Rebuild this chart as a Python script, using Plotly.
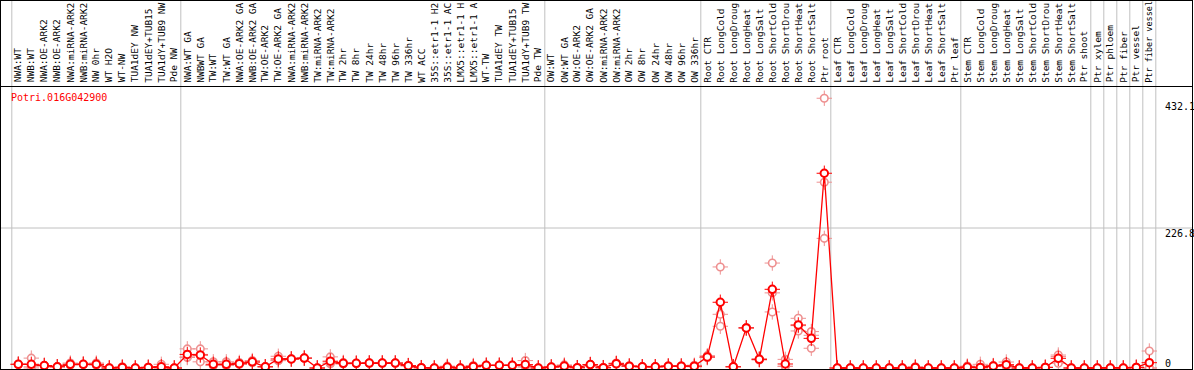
import plotly.graph_objects as go

gene = "Potri.016G042900"

categories = [
    "NWA:WT", "NWB:WT", "NWA:OE-ARK2", "NWB:OE-ARK2", "NWA:miRNA-ARK2", "NWB:miRNA-ARK2",
    "NW 0hr", "WT H2O", "WT-NW", "TUA1dEY NW", "TUA1dEY+TUB15", "TUA1dY+TUB9 NW", "Pde NW",
    "NWA:WT GA", "NWBWT GA", "TW:WT", "TW:WT GA", "NWA:OE-ARK2 GA", "NWB:OE-ARK2 GA",
    "TW:OE-ARK2", "TW:OE-ARK2 GA", "NWA:miRNA-ARK2", "NWB:miRNA-ARK2", "TW:miRNA-ARK2",
    "TW:miRNA-ARK2", "TW 2hr", "TW 8hr", "TW 24hr", "TW 48hr", "TW 96hr", "TW 336hr",
    "WT ACC", "35S::etr1-1 H2", "35S::etr1-1 AC", "LMX5::etr1-1 H", "LMX5::etr1-1 A",
    "WT-TW", "TUA1dEY TW", "TUA1dEY+TUB15", "TUA1dY+TUB9 TW", "Pde TW",
    "OW:WT", "OW:WT GA", "OW:OE-ARK2", "OW:OE-ARK2 GA", "OW:miRNA-ARK2", "OW:miRNA-ARK2",
    "OW 2hr", "OW 8hr", "OW 24hr", "OW 48hr", "OW 96hr", "OW 336hr",
    "Root CTR", "Root LongCold", "Root LongDroug", "Root LongHeat", "Root LongSalt",
    "Root ShortCold", "Root ShortDrou", "Root ShortHeat", "Root ShortSalt", "Ptr root",
    "Leaf CTR", "Leaf LongCold", "Leaf LongDroug", "Leaf LongHeat", "Leaf LongSalt",
    "Leaf ShortCold", "Leaf ShortDrou", "Leaf ShortHeat", "Leaf ShortSalt", "Ptr leaf",
    "Stem CTR", "Stem LongCold", "Stem LongDroug", "Stem LongHeat", "Stem LongSalt",
    "Stem ShortCold", "Stem ShortDrou", "Stem ShortHeat", "Stem ShortSalt", "Ptr shoot",
    "Ptr xylem", "Ptr phloem", "Ptr fiber", "Ptr vessel", "Ptr fiber vessel",
]

means = [
    6, 6, 4, 2, 6, 6, 6, 0, 1, 0, 1, 2, 0,
    22, 21, 6, 6, 7, 10, 2, 14.6, 14.6, 16, 0, 11, 7.6, 7.6, 8, 8, 8, 3.8, 0.5, 0, 1.6, 0,
    2.5, 4.3, 4.3, 4.3, 5.5, 0,
    1.6, 3.2, 0.5, 5.5, 0.5, 7, 3, 2, 2, 3, 3, 3,
    18, 106.5, 2, 65, 14, 127.5, 6.5, 69.7, 48, 315.5,
    0, 0, 0, 0, 0, 0, 1, 0, 0, 0,
    1.6, 1, 3.2, 5.4, 0, 0, 1, 15.7, 0, 0,
    0, 0, 0, 1, 8.6,
]

rep1 = [
    6, 16, 4, 2, 8, 6, 8, 0, 2, 0, 1, 6, 0,
    31, 31, 10, 10, 9, 12, 2, 19, 14.6, 16, 0, 18, 9, 7.6, 8, 8, 8, 3.8, 0.5, 0, 3, 0,
    4, 4.3, 4.3, 4.3, 12, 0,
    1.6, 5, 0.5, 5.5, 0.5, 8, 3, 2, 2, 3, 3, 4.5,
    20, 163.7, 2, 65, 15, 170, 14, 80.5, 59, 437,
    0, 0, 0, 0, 0, 0, 2, 0, 0, 0,
    3.2, 6, 4, 9.7, 0, 0, 1, 21, 0, 0,
    0, 0, 0, 1, 27.5,
]

rep2 = [
    6, 2, 4, 2, 5, 6, 5, 0, 1, 0, 1, 0, 0,
    18, 22, 4, 4, 6, 9, 2, 12, 14.6, 16, 0, 8, 7, 7.6, 8, 8, 8, 3.8, 0.5, 0, 1, 0,
    2, 4.3, 4.3, 4.3, 3, 0,
    1.6, 2.5, 0.5, 5.5, 0.5, 6.5, 3, 2, 2, 3, 3, 2.5,
    17, 87, 2, 65, 14, 121.7, 3, 68.6, 53, 301,
    0, 0, 0, 0, 0, 0, 1, 0, 0, 0,
    1, 0, 3, 4, 0, 0, 1, 18.5, 0, 0,
    0, 0, 0, 1, 0,
]

rep3 = [
    6, 0, 4, 2, 5, 6, 5, 0, 0, 0, 1, 0, 0,
    17, 10, 4, 4, 6, 9, 2, 12, 14.6, 16, 0, 7, 6.8, 7.6, 8, 8, 8, 3.8, 0.5, 0, 0.8, 0,
    1.5, 4.3, 4.3, 4.3, 1.5, 0,
    1.6, 2, 0.5, 5.5, 0.5, 6.5, 3, 2, 2, 3, 3, 2,
    17, 67.6, 2, 65, 13, 90.8, 2.5, 60, 32, 210,
    0, 0, 0, 0, 0, 0, 0, 0, 0, 0,
    0.6, 0, 2.6, 2.5, 0, 0, 1, 7.6, 0, 0,
    0, 0, 0, 1, 0,
]

y_tick_vals = [432.1, 226.8, 0]
y_tick_text = ["432.1", "226.8", "0"]
group_ends = [-1, 12, 40, 52, 62, 72, 82, 83, 84, 85, 86, 87]

W, H = 1194, 370
L, R, T, B = 1, 2, 87, 0
plot_h = H - T - B
PX_PER_CAT = 13.0
first_center_px = 18.3
x0 = -(first_center_px - L) / PX_PER_CAT
x1 = x0 + (W - L - R) / PX_PER_CAT
zero_py = 368.0
px_per_unit = (368.0 - 228.0) / 226.8
y_lo = -(H - zero_py) / px_per_unit
y_hi = (zero_py - T) / px_per_unit


def py_to_paper(py):
    return (H - B - py) / plot_h


def px_to_paper(px):
    return (px - L) / (W - L - R)


RED = "#FF0000"
PINK = "#EE9090"
xs = list(range(len(categories)))
fig = go.Figure()

for rep in (rep3, rep2, rep1):
    fig.add_trace(go.Scatter(x=xs, y=rep, mode="markers",
                             marker=dict(symbol="cross-thin-open", size=11, color=PINK,
                                         line=dict(width=1, color=PINK)),
                             hoverinfo="skip", showlegend=False, cliponaxis=False))
    fig.add_trace(go.Scatter(x=xs, y=rep, mode="markers",
                             marker=dict(symbol="circle", size=7.5, color="white",
                                         line=dict(width=1.6, color=PINK)),
                             hoverinfo="skip", showlegend=False, cliponaxis=False))

fig.add_trace(go.Scatter(x=xs, y=means, mode="lines", line=dict(color=RED, width=1.3),
                         hoverinfo="skip", showlegend=False, cliponaxis=False))
fig.add_trace(go.Scatter(x=xs, y=means, mode="markers",
                         marker=dict(symbol="cross-thin-open", size=11, color=RED,
                                     line=dict(width=1, color=RED)),
                         hoverinfo="skip", showlegend=False, cliponaxis=False))
fig.add_trace(go.Scatter(x=xs, y=means, mode="markers",
                         marker=dict(symbol="circle", size=7.5, color="white",
                                     line=dict(width=2, color=RED)),
                         text=categories, showlegend=False, cliponaxis=False))

shapes = []
for g in group_ends:
    shapes.append(dict(type="line", xref="x", yref="paper", x0=g + 0.5, x1=g + 0.5,
                       y0=py_to_paper(H), y1=py_to_paper(0),
                       line=dict(color="#C0C0C0", width=1), layer="below"))
shapes.append(dict(type="line", xref="paper", yref="y", x0=0, x1=1,
                   y0=y_tick_vals[1], y1=y_tick_vals[1],
                   line=dict(color="#C0C0C0", width=1), layer="below"))
for py in (0.5, 86.5, 369.5):
    shapes.append(dict(type="line", xref="paper", yref="paper", x0=px_to_paper(0), x1=px_to_paper(1193),
                       y0=py_to_paper(py), y1=py_to_paper(py), line=dict(color="black", width=1)))
for px in (0.5, 1192.5):
    shapes.append(dict(type="line", xref="paper", yref="paper", x0=px_to_paper(px), x1=px_to_paper(px),
                       y0=py_to_paper(H), y1=py_to_paper(0), line=dict(color="black", width=1)))

annotations = []
for i, c in enumerate(categories):
    fs = min(9.5, 82.0 / (0.602 * len(c)))
    annotations.append(dict(x=i, y=py_to_paper(84.5), xref="x", yref="paper", text=c,
                            textangle=-90, showarrow=False, xanchor="center", yanchor="bottom",
                            font=dict(family="DejaVu Sans Mono", size=fs, color="black")))
annotations.append(dict(x=px_to_paper(9), y=py_to_paper(97), xref="paper", yref="paper",
                        text=gene, showarrow=False, xanchor="left", yanchor="middle",
                        font=dict(family="DejaVu Sans Mono", size=10, color=RED)))
for v, t, py in zip(y_tick_vals, y_tick_text, (107, 233, 363)):
    annotations.append(dict(x=px_to_paper(1163), y=py_to_paper(py), xref="paper", yref="paper",
                            text=t, showarrow=False, xanchor="left", yanchor="middle",
                            font=dict(family="DejaVu Sans Mono", size=10, color="black")))

fig.update_layout(
    width=W, height=H, margin=dict(l=L, r=R, t=T, b=B, pad=0),
    paper_bgcolor="white", plot_bgcolor="white",
    xaxis=dict(range=[x0, x1], visible=False, fixedrange=True),
    yaxis=dict(range=[y_lo, y_hi], visible=False, fixedrange=True),
    shapes=shapes, annotations=annotations,
)

fig.write_html("out.html", config={"displayModeBar": False},
               post_script="document.body.style.margin='0px';document.body.style.overflow='hidden';")
